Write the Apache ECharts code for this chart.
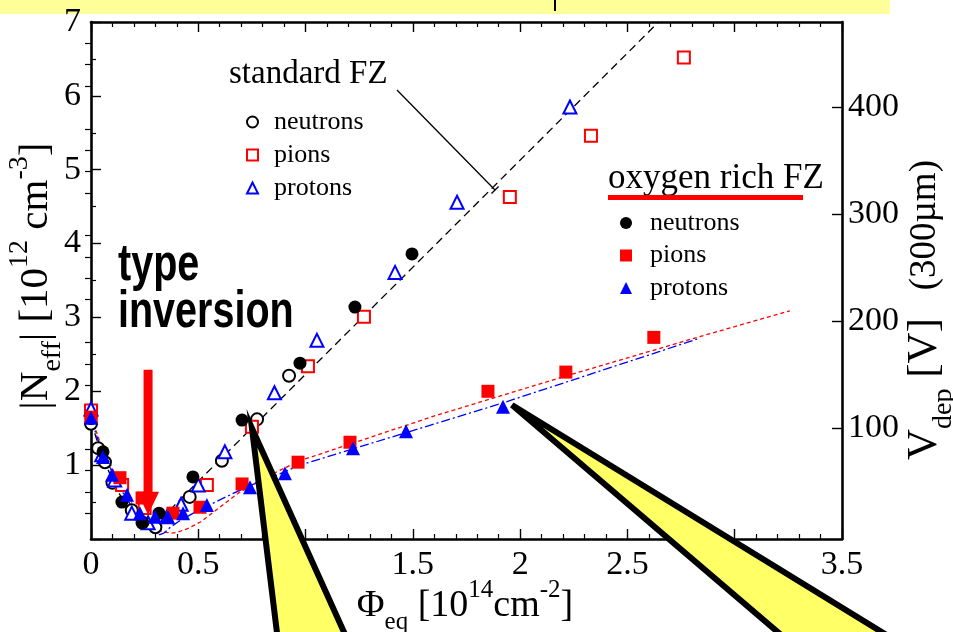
<!DOCTYPE html>
<html>
<head>
<meta charset="utf-8">
<script src="https://cdn.jsdelivr.net/npm/echarts@6/dist/echarts.min.js"></script>
<style>
  html, body { margin: 0; padding: 0; background: #fff; }
  #chart { width: 953px; height: 632px; }
</style>
</head>
<body>
<div id="chart"></div>
<script>
// Fluence Phi_eq in 1e14 cm^-2, |Neff| in 1e12 cm^-3

// standard FZ (open symbols)
const stdNeutrons = [[0, 1.56], [0.033, 1.23], [0.065, 1.04], [0.10, 0.76], [0.19, 0.39], [0.24, 0.22],
  [0.30, 0.16], [0.46, 0.57], [0.61, 1.06], [0.774, 1.62], [0.923, 2.21]];
const stdPions = [[0, 1.74], [0.145, 0.73], [0.25, 0.42], [0.54, 0.73], [0.75, 1.52], [1.011, 2.34],
  [1.272, 3.01], [1.952, 4.63], [2.33, 5.46], [2.763, 6.52]];
const stdProtons = [[0, 1.76], [0.05, 1.14], [0.11, 0.80], [0.19, 0.35], [0.266, 0.22], [0.354, 0.30],
  [0.42, 0.47], [0.50, 0.73], [0.624, 1.18], [0.855, 1.98], [1.053, 2.69], [1.417, 3.61],
  [1.706, 4.56], [2.232, 5.85]];

// oxygen rich FZ (filled symbols)
const oxyNeutrons = [[0, 1.63], [0.056, 1.18], [0.144, 0.50], [0.242, 0.22], [0.317, 0.35], [0.475, 0.84],
  [0.704, 1.61], [0.974, 2.38], [1.23, 3.14], [1.496, 3.86]];
const oxyPions = [[0, 1.65], [0.135, 0.83], [0.238, 0.555], [0.382, 0.35], [0.508, 0.43], [0.704, 0.745],
  [0.965, 1.04], [1.207, 1.31], [1.85, 2.0], [2.213, 2.26], [2.623, 2.73]];
const oxyProtons = [[0, 1.64], [0.056, 1.11], [0.098, 0.87], [0.168, 0.60], [0.228, 0.35], [0.298, 0.30],
  [0.359, 0.30], [0.429, 0.35], [0.54, 0.46], [0.741, 0.70], [0.904, 0.89], [1.221, 1.23],
  [1.468, 1.46], [1.92, 1.79]];

// fitted parametrisations
const stdFit = [[0, 1.6], [0.025, 1.36], [0.05, 1.15], [0.075, 0.97], [0.1, 0.8], [0.125, 0.65],
  [0.15, 0.52], [0.175, 0.4], [0.2, 0.3], [0.225, 0.21], [0.25, 0.15], [0.275, 0.12], [0.3, 0.14],
  [0.325, 0.22], [0.35, 0.32], [0.375, 0.41], [0.4, 0.49], [0.45, 0.635], [0.5, 0.78], [2.645, 7.0]];
const oxyPionFit = [[0, 1.65], [0.05, 1.25], [0.1, 0.95], [0.15, 0.68], [0.2, 0.45], [0.25, 0.27],
  [0.3, 0.15], [0.325, 0.11], [0.35, 0.09], [0.375, 0.08], [0.4, 0.09], [0.45, 0.14], [0.51, 0.23],
  [0.6, 0.43], [0.69, 0.63], [0.79, 0.8], [0.88, 0.93], [0.974, 1.06], [1.594, 1.66], [2.217, 2.21],
  [2.837, 2.74], [3.257, 3.09]];
const oxyProtonFit = [[0, 1.62], [0.05, 1.2], [0.1, 0.9], [0.15, 0.62], [0.2, 0.39], [0.25, 0.21],
  [0.275, 0.13], [0.3, 0.08], [0.32, 0.06], [0.34, 0.08], [0.37, 0.16], [0.41, 0.24], [0.446, 0.30],
  [0.477, 0.35], [0.6, 0.53], [0.73, 0.71], [0.87, 0.87], [0.974, 1.0], [1.906, 1.83], [2.651, 2.54],
  [2.838, 2.72]];

// depletion voltage axis (300 um)
const vdepMajor = [100, 200, 300, 400];
const vdepMinor = [20, 40, 60, 80, 120, 140, 160, 180, 220, 240, 260, 280, 320, 340, 360, 380, 420, 440, 460];

// annotation anchors in data coordinates
const calloutA = [[0.75, 1.50], [0.871, -1.37], [1.196, -1.37]];
const calloutB = [[1.962, 1.814], [3.245, -1.37], [3.747, -1.37]];
const arrowFrom = [0.266, 2.29];
const arrowTo = [0.266, 0.33];
const stdPointer = [[1.426, 6.08], [1.883, 4.725]];

const SERIF = '"Liberation Serif", "Times New Roman", serif';
const SANS = '"Liberation Sans", Arial, sans-serif';

const chart = echarts.init(document.getElementById('chart'), null, { renderer: 'canvas' });

const frameLine = { show: true, onZero: false, lineStyle: { color: '#000', width: 2.6 } };
const majorTick = { show: true, inside: true, length: 10, lineStyle: { color: '#000', width: 1.4 } };
const minorTick = (n) => ({ show: true, splitNumber: n, length: 5, lineStyle: { color: '#000', width: 1.2 } });
const tickFont = { fontFamily: SERIF, fontSize: 34, color: '#000' };

const legendText = (pad) => ({ fontFamily: SERIF, fontSize: 26, color: '#000', lineHeight: 26, padding: [0, 0, 0, pad] });

const option = {
  animation: false,
  grid: { left: 91, right: 111, top: 22, bottom: 93, containLabel: false },
  xAxis: [
    {
      type: 'value', min: 0, max: 3.5, interval: 0.5, position: 'bottom',
      axisLine: frameLine, axisTick: majorTick, minorTick: minorTick(5),
      splitLine: { show: false }, minorSplitLine: { show: false },
      axisLabel: Object.assign({ margin: 9 }, tickFont)
    },
    {
      type: 'value', min: 0, max: 3.5, interval: 0.5, position: 'top',
      axisLine: frameLine, axisTick: majorTick, minorTick: minorTick(5),
      splitLine: { show: false }, axisLabel: { show: false }
    }
  ],
  yAxis: [
    {
      type: 'value', min: 0, max: 7, interval: 1, position: 'left',
      axisLine: frameLine, axisTick: majorTick, minorTick: minorTick(2),
      splitLine: { show: false },
      axisLabel: Object.assign({ margin: 10, showMinLabel: false }, tickFont)
    },
    {
      type: 'value', min: -4, max: 480, position: 'right',
      axisLine: frameLine,
      axisTick: Object.assign({ customValues: vdepMajor }, majorTick),
      splitLine: { show: false },
      axisLabel: Object.assign({ margin: 6, customValues: vdepMajor }, tickFont)
    },
    {
      type: 'value', min: -4, max: 480, position: 'right',
      axisLine: { show: false },
      axisTick: { show: true, inside: true, length: 6, customValues: vdepMinor, lineStyle: { color: '#000', width: 1.2 } },
      splitLine: { show: false }, axisLabel: { show: false }
    }
  ],
  legend: [
    {
      data: ['std neutrons', 'std pions', 'std protons'],
      orient: 'vertical', left: 241, top: 104, itemWidth: 11, itemHeight: 11, itemGap: 7,
      selectedMode: false, formatter: (n) => n.split(' ')[1], textStyle: legendText(11)
    },
    {
      data: ['oxy neutrons', 'oxy pions', 'oxy protons'],
      orient: 'vertical', left: 615, top: 205, itemWidth: 12, itemHeight: 12, itemGap: 6.5,
      selectedMode: false, formatter: (n) => n.split(' ')[1], textStyle: legendText(13)
    }
  ],
  series: [
    {
      name: 'std fit', type: 'line', data: stdFit, symbol: 'none', smooth: false,
      lineStyle: { color: '#000', width: 1.3, type: [8, 5] }, z: 1, silent: true
    },
    {
      name: 'oxy pion fit', type: 'line', data: oxyPionFit, symbol: 'none', smooth: false,
      lineStyle: { color: '#ff0000', width: 1.3, type: [4, 3] }, z: 1, silent: true
    },
    {
      name: 'oxy proton fit', type: 'line', data: oxyProtonFit, symbol: 'none', smooth: false,
      lineStyle: { color: '#0000ff', width: 1.3, type: [9, 3, 2, 3] }, z: 1, silent: true
    },
    {
      name: 'std neutrons', type: 'scatter', data: stdNeutrons, symbol: 'emptyCircle', symbolSize: 12,
      itemStyle: { color: '#000', borderWidth: 1.3, opacity: 1 }, z: 3
    },
    {
      name: 'std pions', type: 'scatter', data: stdPions, symbol: 'emptyRect', symbolSize: 12,
      itemStyle: { color: '#ff0000', borderWidth: 1.3, opacity: 1 }, z: 3
    },
    {
      name: 'std protons', type: 'scatter', data: stdProtons, symbol: 'emptyTriangle', symbolSize: 13,
      itemStyle: { color: '#0000ff', borderWidth: 1.3, opacity: 1 }, z: 3
    },
    {
      name: 'oxy neutrons', type: 'scatter', data: oxyNeutrons, symbol: 'circle', symbolSize: 13,
      itemStyle: { color: '#000', opacity: 1 }, z: 4
    },
    {
      name: 'oxy pions', type: 'scatter', data: oxyPions, symbol: 'rect', symbolSize: 13,
      itemStyle: { color: '#ff0000', opacity: 1 }, z: 4
    },
    {
      name: 'oxy protons', type: 'scatter', data: oxyProtons, symbol: 'triangle', symbolSize: 14,
      itemStyle: { color: '#0000ff', opacity: 1 }, z: 4
    }
  ]
};

chart.setOption(option);

const toPx = (p) => chart.convertToPixel({ xAxisIndex: 0, yAxisIndex: 0 }, p);

function wedge(points) {
  return {
    type: 'polygon', z: 200,
    shape: { points: points.map(toPx) },
    style: { fill: '#ffff66', stroke: '#000', lineWidth: 6, lineJoin: 'miter' }
  };
}

function downArrow(from, to) {
  const a = toPx(from), b = toPx(to);
  const cx = a[0], shaft = 4.5, head = 11, headLen = 23;
  return {
    type: 'polygon', z: 150,
    shape: {
      points: [
        [cx - shaft, a[1]], [cx + shaft, a[1]], [cx + shaft, b[1] - headLen], [cx + head, b[1] - headLen],
        [cx, b[1]], [cx - head, b[1] - headLen], [cx - shaft, b[1] - headLen]
      ]
    },
    style: { fill: '#ff0000' }
  };
}

const p0 = toPx(stdPointer[0]), p1 = toPx(stdPointer[1]);
const dx = p1[0] - p0[0], dy = p1[1] - p0[1], len = Math.hypot(dx, dy);
const nx = -dy / len * 5, ny = dx / len * 5;

const riched = (base, small, extra) => Object.assign({
  a: { fontFamily: SERIF, fontSize: base, lineHeight: base * 1.5, verticalAlign: 'middle', color: '#000' },
  b: { fontFamily: SERIF, fontSize: small, lineHeight: small, verticalAlign: 'bottom', color: '#000' },
  c: { fontFamily: SERIF, fontSize: small, lineHeight: small, verticalAlign: 'top', color: '#000' }
}, extra || {});

chart.setOption({
  graphic: [
    { type: 'rect', z: 0, shape: { x: 0, y: 0, width: 890, height: 14 }, style: { fill: '#ffff99' } },
    { type: 'rect', z: 1, shape: { x: 554, y: 0, width: 2, height: 11 }, style: { fill: '#000' } },

    downArrow(arrowFrom, arrowTo),
    wedge(calloutA),
    wedge(calloutB),

    {
      type: 'text', z: 150, x: 118, y: 266, scaleX: 0.76,
      style: { text: 'type', font: 'bold 52px ' + SANS, fill: '#000', verticalAlign: 'middle' }
    },
    {
      type: 'text', z: 150, x: 118, y: 313, scaleX: 0.76,
      style: { text: 'inversion', font: 'bold 52px ' + SANS, fill: '#000', verticalAlign: 'middle' }
    },

    {
      type: 'text', z: 150, x: 229, y: 74,
      style: { text: 'standard FZ', font: '33px ' + SERIF, fill: '#000', verticalAlign: 'middle' }
    },
    { type: 'line', z: 150, shape: { x1: p0[0], y1: p0[1], x2: p1[0], y2: p1[1] }, style: { stroke: '#000', lineWidth: 1.3 } },
    { type: 'line', z: 150, shape: { x1: p1[0] - nx, y1: p1[1] - ny, x2: p1[0] + nx, y2: p1[1] + ny }, style: { stroke: '#000', lineWidth: 1.3 } },

    {
      type: 'text', z: 150, x: 608, y: 179,
      style: { text: 'oxygen rich FZ', font: '35px ' + SERIF, fill: '#000', verticalAlign: 'middle' }
    },
    { type: 'rect', z: 150, shape: { x: 608, y: 195, width: 195, height: 5 }, style: { fill: '#ff0000' } },

    {
      type: 'text', z: 150, x: 465, y: 606,
      style: {
        text: '{a|Φ}{b|eq}{a| [10}{c|14}{a|cm}{c|-2}{a|]}',
        align: 'center', verticalAlign: 'middle', rich: riched(38, 25)
      }
    },
    {
      type: 'text', z: 150, x: 36, y: 276, rotation: Math.PI / 2,
      style: {
        text: '{a||N}{b|eff}{a|| [10}{c|12}{a| cm}{c|-3}{a|]}',
        align: 'center', verticalAlign: 'middle', rich: riched(41, 28)
      }
    },
    {
      type: 'text', z: 150, x: 925, y: 310, rotation: Math.PI / 2,
      style: {
        text: '{a|V}{b|dep}{a| [V]}{d|   (300µm)}',
        align: 'center', verticalAlign: 'middle',
        rich: riched(43, 28, { d: { fontFamily: SERIF, fontSize: 37, lineHeight: 37, verticalAlign: 'middle', color: '#000' } })
      }
    }
  ]
});
</script>
</body>
</html>
